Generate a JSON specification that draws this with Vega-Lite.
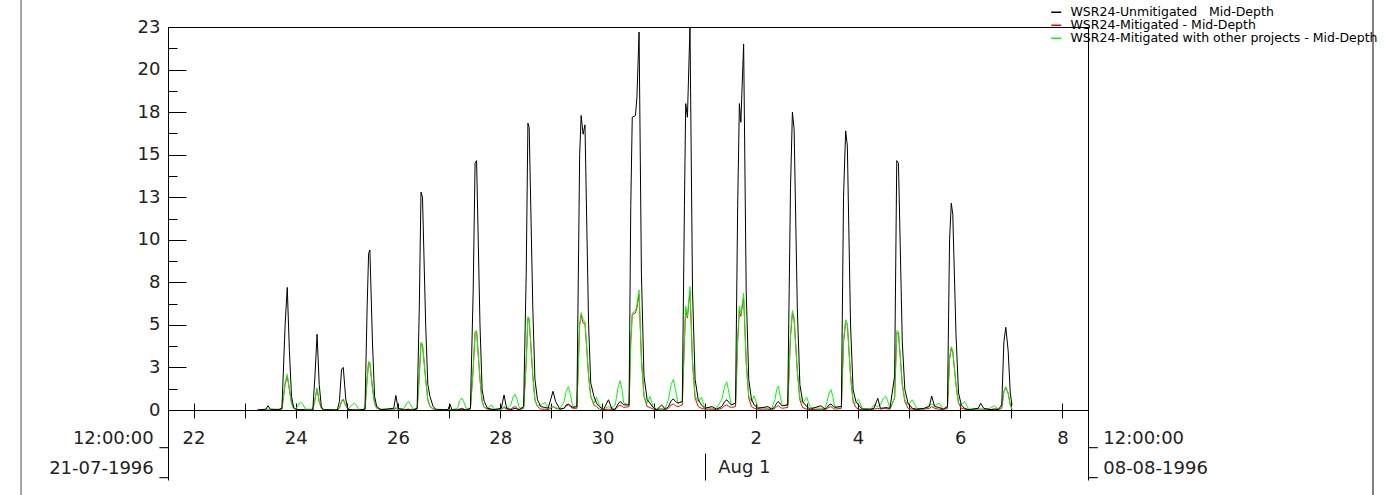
{
  "$schema": "https://vega.github.io/schema/vega-lite/v6.json",
  "width": 920,
  "height": 383,
  "autosize": {"type": "none"},
  "padding": {"left": 168, "top": 27, "right": 301, "bottom": 85},
  "background": "white",
  "config": {
    "view": {"stroke": "#000000", "strokeWidth": 1},
    "axis": {"grid": false, "domainColor": "#000000", "tickColor": "#000000", "labelColor": "#222222", "labelFont": "DejaVu Sans", "labelFontSize": 18, "title": null, "labelOverlap": false, "labelFlush": false, "labelBound": false, "labelLimit": 300},
    "legend": {"orient": "none", "legendX": 882, "legendY": -21, "title": null, "symbolType": "stroke", "symbolSize": 100, "symbolStrokeWidth": 1.5, "labelFont": "DejaVu Sans", "labelFontSize": 12.5, "labelColor": "#000000", "labelOffset": 8, "rowPadding": -1.5, "padding": 0, "labelLimit": 400}
  },
  "data": {"values": [
    {"t":"1996-07-23T06:00","U":0,"M":0,"O":0},
    {"t":"1996-07-23T10:00","U":0.05,"M":0,"O":0.02},
    {"t":"1996-07-23T11:00","U":0.25,"M":0.02,"O":0.05},
    {"t":"1996-07-23T12:00","U":0.05,"M":0,"O":0.03},
    {"t":"1996-07-23T16:00","U":0.02,"M":0,"O":0.05},
    {"t":"1996-07-23T17:30","U":0.1,"M":0.05,"O":0.1},
    {"t":"1996-07-23T19:00","U":5.0,"M":1.5,"O":1.6},
    {"t":"1996-07-23T20:00","U":7.2,"M":2.0,"O":2.1},
    {"t":"1996-07-23T21:00","U":3.5,"M":1.2,"O":1.2},
    {"t":"1996-07-23T22:00","U":0.8,"M":0.4,"O":0.4},
    {"t":"1996-07-23T23:00","U":0.15,"M":0.1,"O":0.1},
    {"t":"1996-07-24T00:00","U":0.05,"M":0.02,"O":0.05},
    {"t":"1996-07-24T01:30","U":0.02,"M":0.02,"O":0.35},
    {"t":"1996-07-24T02:30","U":0.02,"M":0.02,"O":0.45},
    {"t":"1996-07-24T03:30","U":0.02,"M":0.02,"O":0.3},
    {"t":"1996-07-24T04:30","U":0,"M":0,"O":0.05},
    {"t":"1996-07-24T08:00","U":0,"M":0,"O":0.05},
    {"t":"1996-07-24T09:00","U":2.0,"M":0.6,"O":0.6},
    {"t":"1996-07-24T10:00","U":4.45,"M":1.25,"O":1.3},
    {"t":"1996-07-24T11:00","U":1.5,"M":0.5,"O":0.5},
    {"t":"1996-07-24T12:00","U":0.2,"M":0.1,"O":0.1},
    {"t":"1996-07-24T13:00","U":0.02,"M":0,"O":0.02},
    {"t":"1996-07-24T19:30","U":0,"M":0,"O":0.02},
    {"t":"1996-07-24T20:30","U":0.5,"M":0.1,"O":0.15},
    {"t":"1996-07-24T21:30","U":2.4,"M":0.5,"O":0.55},
    {"t":"1996-07-24T22:18","U":2.5,"M":0.6,"O":0.65},
    {"t":"1996-07-24T23:30","U":0.6,"M":0.25,"O":0.25},
    {"t":"1996-07-25T00:30","U":0.05,"M":0.03,"O":0.05},
    {"t":"1996-07-25T02:30","U":0,"M":0.02,"O":0.3},
    {"t":"1996-07-25T03:30","U":0,"M":0.02,"O":0.4},
    {"t":"1996-07-25T04:30","U":0,"M":0.02,"O":0.28},
    {"t":"1996-07-25T05:30","U":0,"M":0,"O":0.03},
    {"t":"1996-07-25T08:30","U":0.05,"M":0.02,"O":0.05},
    {"t":"1996-07-25T09:30","U":6,"M":1.8,"O":1.8},
    {"t":"1996-07-25T10:12","U":9.2,"M":2.8,"O":2.85},
    {"t":"1996-07-25T10:48","U":9.4,"M":2.7,"O":2.8},
    {"t":"1996-07-25T12:00","U":4,"M":1.3,"O":1.3},
    {"t":"1996-07-25T13:00","U":0.8,"M":0.4,"O":0.4},
    {"t":"1996-07-25T14:00","U":0.2,"M":0.1,"O":0.1},
    {"t":"1996-07-25T16:00","U":0.02,"M":0.02,"O":0.05},
    {"t":"1996-07-25T22:00","U":0.1,"M":0.02,"O":0.05},
    {"t":"1996-07-25T23:00","U":0.85,"M":0.1,"O":0.15},
    {"t":"1996-07-26T00:00","U":0.1,"M":0.02,"O":0.05},
    {"t":"1996-07-26T03:00","U":0,"M":0,"O":0.1},
    {"t":"1996-07-26T04:00","U":0.02,"M":0.04,"O":0.4},
    {"t":"1996-07-26T05:00","U":0.02,"M":0.05,"O":0.5},
    {"t":"1996-07-26T06:00","U":0.01,"M":0.03,"O":0.3},
    {"t":"1996-07-26T07:00","U":0,"M":0,"O":0.05},
    {"t":"1996-07-26T09:00","U":0.1,"M":0.05,"O":0.1},
    {"t":"1996-07-26T10:00","U":6,"M":2,"O":2},
    {"t":"1996-07-26T10:48","U":12.8,"M":3.9,"O":3.98},
    {"t":"1996-07-26T11:30","U":12.5,"M":3.8,"O":3.9},
    {"t":"1996-07-26T13:00","U":5,"M":1.8,"O":1.8},
    {"t":"1996-07-26T14:00","U":1.5,"M":0.6,"O":0.6},
    {"t":"1996-07-26T15:00","U":0.8,"M":0.2,"O":0.2},
    {"t":"1996-07-26T16:30","U":0.2,"M":0.05,"O":0.08},
    {"t":"1996-07-26T18:00","U":0.02,"M":0.02,"O":0.05},
    {"t":"1996-07-26T23:30","U":0.02,"M":0,"O":0.02},
    {"t":"1996-07-27T00:24","U":0.35,"M":0.05,"O":0.05},
    {"t":"1996-07-27T01:18","U":0.02,"M":0,"O":0.02},
    {"t":"1996-07-27T04:00","U":0,"M":0.02,"O":0.1},
    {"t":"1996-07-27T05:00","U":0.03,"M":0.07,"O":0.55},
    {"t":"1996-07-27T06:00","U":0.05,"M":0.1,"O":0.7},
    {"t":"1996-07-27T07:00","U":0.03,"M":0.05,"O":0.45},
    {"t":"1996-07-27T08:00","U":0,"M":0,"O":0.1},
    {"t":"1996-07-27T10:00","U":0.1,"M":0.05,"O":0.1},
    {"t":"1996-07-27T11:18","U":7,"M":2.4,"O":2.4},
    {"t":"1996-07-27T12:12","U":14.5,"M":4.5,"O":4.6},
    {"t":"1996-07-27T12:54","U":14.65,"M":4.6,"O":4.66},
    {"t":"1996-07-27T14:30","U":5,"M":1.8,"O":1.8},
    {"t":"1996-07-27T15:30","U":1.2,"M":0.5,"O":0.5},
    {"t":"1996-07-27T16:30","U":0.5,"M":0.15,"O":0.15},
    {"t":"1996-07-27T18:00","U":0.1,"M":0.05,"O":0.1},
    {"t":"1996-07-27T20:00","U":0.05,"M":0.02,"O":0.3},
    {"t":"1996-07-27T21:00","U":0.02,"M":0.02,"O":0.05},
    {"t":"1996-07-28T00:30","U":0.1,"M":0.02,"O":0.05},
    {"t":"1996-07-28T01:48","U":0.88,"M":0.15,"O":0.2},
    {"t":"1996-07-28T03:00","U":0.1,"M":0.05,"O":0.1},
    {"t":"1996-07-28T05:00","U":0.02,"M":0.05,"O":0.3},
    {"t":"1996-07-28T06:00","U":0.06,"M":0.15,"O":0.75},
    {"t":"1996-07-28T07:00","U":0.1,"M":0.2,"O":0.92},
    {"t":"1996-07-28T08:00","U":0.05,"M":0.1,"O":0.6},
    {"t":"1996-07-28T09:00","U":0.02,"M":0.02,"O":0.1},
    {"t":"1996-07-28T11:00","U":0.2,"M":0.1,"O":0.15},
    {"t":"1996-07-28T12:12","U":8,"M":2.8,"O":2.8},
    {"t":"1996-07-28T13:00","U":16.85,"M":5.4,"O":5.48},
    {"t":"1996-07-28T13:36","U":16.6,"M":5.3,"O":5.4},
    {"t":"1996-07-28T15:18","U":6,"M":2,"O":2},
    {"t":"1996-07-28T16:18","U":1.8,"M":0.6,"O":0.6},
    {"t":"1996-07-28T17:30","U":0.6,"M":0.2,"O":0.2},
    {"t":"1996-07-28T19:00","U":0.2,"M":0.05,"O":0.3},
    {"t":"1996-07-28T21:00","U":0.15,"M":0.05,"O":0.45},
    {"t":"1996-07-28T22:30","U":0.1,"M":0.02,"O":0.1},
    {"t":"1996-07-29T00:48","U":1.1,"M":0.2,"O":0.2},
    {"t":"1996-07-29T02:00","U":0.5,"M":0.1,"O":0.15},
    {"t":"1996-07-29T04:00","U":0.05,"M":0.05,"O":0.05},
    {"t":"1996-07-29T06:00","U":0.1,"M":0.1,"O":0.5},
    {"t":"1996-07-29T07:00","U":0.3,"M":0.25,"O":1.1},
    {"t":"1996-07-29T08:00","U":0.35,"M":0.3,"O":1.37},
    {"t":"1996-07-29T09:00","U":0.25,"M":0.2,"O":0.9},
    {"t":"1996-07-29T10:00","U":0.15,"M":0.1,"O":0.2},
    {"t":"1996-07-29T12:00","U":0.2,"M":0.1,"O":0.2},
    {"t":"1996-07-29T13:18","U":15,"M":5,"O":5},
    {"t":"1996-07-29T14:00","U":17.3,"M":5.6,"O":5.72},
    {"t":"1996-07-29T14:54","U":16.2,"M":5.1,"O":5.3},
    {"t":"1996-07-29T15:48","U":16.75,"M":5.1,"O":5.2},
    {"t":"1996-07-29T17:30","U":5,"M":2,"O":2},
    {"t":"1996-07-29T18:30","U":1.6,"M":0.8,"O":0.8},
    {"t":"1996-07-29T20:00","U":0.8,"M":0.3,"O":0.4},
    {"t":"1996-07-29T21:12","U":0.4,"M":0.2,"O":0.75},
    {"t":"1996-07-29T22:30","U":0.2,"M":0.05,"O":0.3},
    {"t":"1996-07-30T00:30","U":0.02,"M":0.02,"O":0.05},
    {"t":"1996-07-30T02:48","U":0.6,"M":0.05,"O":0.2},
    {"t":"1996-07-30T04:30","U":0.05,"M":0.02,"O":0.1},
    {"t":"1996-07-30T06:00","U":0.05,"M":0.05,"O":0.3},
    {"t":"1996-07-30T07:18","U":0.35,"M":0.2,"O":1.3},
    {"t":"1996-07-30T08:18","U":0.5,"M":0.3,"O":1.72},
    {"t":"1996-07-30T09:12","U":0.4,"M":0.22,"O":1.2},
    {"t":"1996-07-30T10:00","U":0.3,"M":0.15,"O":0.4},
    {"t":"1996-07-30T12:30","U":0.3,"M":0.2,"O":0.3},
    {"t":"1996-07-30T13:18","U":12,"M":4,"O":4},
    {"t":"1996-07-30T14:00","U":17.2,"M":5.6,"O":5.7},
    {"t":"1996-07-30T15:30","U":17.3,"M":5.7,"O":5.8},
    {"t":"1996-07-30T16:12","U":18.4,"M":6.0,"O":6.2},
    {"t":"1996-07-30T17:12","U":22.2,"M":6.8,"O":7.05},
    {"t":"1996-07-30T18:18","U":8,"M":3,"O":3},
    {"t":"1996-07-30T19:30","U":2,"M":0.8,"O":0.8},
    {"t":"1996-07-30T21:00","U":0.6,"M":0.2,"O":0.4},
    {"t":"1996-07-30T22:18","U":0.4,"M":0.15,"O":0.8},
    {"t":"1996-07-30T23:48","U":0.15,"M":0.05,"O":0.2},
    {"t":"1996-07-31T01:30","U":0.02,"M":0.02,"O":0.05},
    {"t":"1996-07-31T03:48","U":0.3,"M":0.05,"O":0.1},
    {"t":"1996-07-31T05:30","U":0.05,"M":0.02,"O":0.1},
    {"t":"1996-07-31T07:00","U":0.2,"M":0.1,"O":0.6},
    {"t":"1996-07-31T08:18","U":0.55,"M":0.3,"O":1.5},
    {"t":"1996-07-31T09:18","U":0.65,"M":0.35,"O":1.8},
    {"t":"1996-07-31T10:18","U":0.5,"M":0.25,"O":1.2},
    {"t":"1996-07-31T11:30","U":0.4,"M":0.2,"O":0.4},
    {"t":"1996-07-31T13:30","U":0.5,"M":0.3,"O":0.5},
    {"t":"1996-07-31T14:30","U":12,"M":4,"O":4.2},
    {"t":"1996-07-31T15:06","U":18,"M":5.9,"O":6.1},
    {"t":"1996-07-31T15:54","U":17.2,"M":5.4,"O":5.5},
    {"t":"1996-07-31T17:06","U":22.5,"M":7.0,"O":7.25},
    {"t":"1996-07-31T18:18","U":7,"M":2.8,"O":2.8},
    {"t":"1996-07-31T19:30","U":1.8,"M":0.7,"O":0.8},
    {"t":"1996-07-31T21:00","U":0.6,"M":0.2,"O":0.5},
    {"t":"1996-07-31T22:30","U":0.3,"M":0.1,"O":0.75},
    {"t":"1996-08-01T00:00","U":0.1,"M":0.05,"O":0.15},
    {"t":"1996-08-01T03:30","U":0.2,"M":0.05,"O":0.1},
    {"t":"1996-08-01T05:30","U":0.05,"M":0.02,"O":0.1},
    {"t":"1996-08-01T08:00","U":0.2,"M":0.1,"O":0.6},
    {"t":"1996-08-01T09:24","U":0.5,"M":0.25,"O":1.4},
    {"t":"1996-08-01T10:24","U":0.6,"M":0.3,"O":1.66},
    {"t":"1996-08-01T11:24","U":0.45,"M":0.2,"O":1.0},
    {"t":"1996-08-01T12:30","U":0.3,"M":0.15,"O":0.3},
    {"t":"1996-08-01T14:30","U":0.4,"M":0.2,"O":0.4},
    {"t":"1996-08-01T15:30","U":12,"M":4,"O":4.2},
    {"t":"1996-08-01T16:18","U":18,"M":5.9,"O":6.1},
    {"t":"1996-08-01T17:00","U":16.9,"M":5.5,"O":5.6},
    {"t":"1996-08-01T18:18","U":21.5,"M":6.6,"O":6.86},
    {"t":"1996-08-01T19:30","U":7,"M":2.8,"O":2.8},
    {"t":"1996-08-01T20:42","U":1.8,"M":0.7,"O":0.8},
    {"t":"1996-08-01T22:00","U":0.6,"M":0.2,"O":0.5},
    {"t":"1996-08-01T23:18","U":0.3,"M":0.1,"O":0.82},
    {"t":"1996-08-02T01:00","U":0.1,"M":0.05,"O":0.15},
    {"t":"1996-08-02T05:42","U":0.2,"M":0.05,"O":0.1},
    {"t":"1996-08-02T07:30","U":0.05,"M":0.02,"O":0.1},
    {"t":"1996-08-02T09:00","U":0.2,"M":0.1,"O":0.6},
    {"t":"1996-08-02T09:48","U":0.4,"M":0.2,"O":1.2},
    {"t":"1996-08-02T10:36","U":0.5,"M":0.25,"O":1.4},
    {"t":"1996-08-02T11:30","U":0.35,"M":0.15,"O":0.8},
    {"t":"1996-08-02T12:30","U":0.25,"M":0.1,"O":0.25},
    {"t":"1996-08-02T15:00","U":0.3,"M":0.15,"O":0.3},
    {"t":"1996-08-02T16:18","U":13,"M":4.3,"O":4.4},
    {"t":"1996-08-02T17:12","U":17.5,"M":5.7,"O":5.84},
    {"t":"1996-08-02T18:00","U":16.5,"M":5.3,"O":5.4},
    {"t":"1996-08-02T19:30","U":6,"M":2.3,"O":2.3},
    {"t":"1996-08-02T20:42","U":1.5,"M":0.6,"O":0.7},
    {"t":"1996-08-02T22:00","U":0.5,"M":0.15,"O":0.4},
    {"t":"1996-08-02T23:54","U":0.2,"M":0.05,"O":0.75},
    {"t":"1996-08-03T01:30","U":0.05,"M":0.02,"O":0.15},
    {"t":"1996-08-03T06:36","U":0.25,"M":0.05,"O":0.1},
    {"t":"1996-08-03T08:30","U":0.05,"M":0.02,"O":0.1},
    {"t":"1996-08-03T09:30","U":0.15,"M":0.1,"O":0.5},
    {"t":"1996-08-03T10:24","U":0.3,"M":0.15,"O":1.0},
    {"t":"1996-08-03T11:18","U":0.35,"M":0.2,"O":1.2},
    {"t":"1996-08-03T12:12","U":0.25,"M":0.12,"O":0.8},
    {"t":"1996-08-03T13:00","U":0.15,"M":0.05,"O":0.2},
    {"t":"1996-08-03T16:12","U":0.2,"M":0.1,"O":0.2},
    {"t":"1996-08-03T17:12","U":12.5,"M":4,"O":4.1},
    {"t":"1996-08-03T18:12","U":16.4,"M":5.1,"O":5.3},
    {"t":"1996-08-03T19:00","U":15.5,"M":5,"O":5.1},
    {"t":"1996-08-03T20:30","U":5,"M":2,"O":2},
    {"t":"1996-08-03T21:42","U":1.2,"M":0.5,"O":0.5},
    {"t":"1996-08-03T23:00","U":0.5,"M":0.15,"O":0.4},
    {"t":"1996-08-04T00:12","U":0.3,"M":0.05,"O":0.63},
    {"t":"1996-08-04T02:00","U":0.05,"M":0.02,"O":0.1},
    {"t":"1996-08-04T06:00","U":0.05,"M":0.02,"O":0.05},
    {"t":"1996-08-04T07:30","U":0.1,"M":0.05,"O":0.3},
    {"t":"1996-08-04T09:18","U":0.69,"M":0.1,"O":0.2},
    {"t":"1996-08-04T10:30","U":0.1,"M":0.05,"O":0.3},
    {"t":"1996-08-04T12:00","U":0.12,"M":0.08,"O":0.7},
    {"t":"1996-08-04T13:00","U":0.15,"M":0.1,"O":0.82},
    {"t":"1996-08-04T14:00","U":0.12,"M":0.06,"O":0.5},
    {"t":"1996-08-04T15:00","U":0.1,"M":0.05,"O":0.1},
    {"t":"1996-08-04T17:12","U":2,"M":0.7,"O":0.7},
    {"t":"1996-08-04T18:12","U":14.65,"M":4.5,"O":4.66},
    {"t":"1996-08-04T19:00","U":14.5,"M":4.5,"O":4.6},
    {"t":"1996-08-04T20:48","U":4,"M":1.5,"O":1.5},
    {"t":"1996-08-04T22:00","U":1.2,"M":0.5,"O":0.6},
    {"t":"1996-08-04T23:30","U":0.4,"M":0.1,"O":0.3},
    {"t":"1996-08-05T01:30","U":0.1,"M":0.05,"O":0.6},
    {"t":"1996-08-05T03:30","U":0.05,"M":0.02,"O":0.1},
    {"t":"1996-08-05T07:00","U":0.1,"M":0.05,"O":0.05},
    {"t":"1996-08-05T09:30","U":0.2,"M":0.1,"O":0.3},
    {"t":"1996-08-05T10:36","U":0.82,"M":0.2,"O":0.35},
    {"t":"1996-08-05T12:00","U":0.2,"M":0.1,"O":0.25},
    {"t":"1996-08-05T14:00","U":0.15,"M":0.05,"O":0.4},
    {"t":"1996-08-05T16:00","U":0.05,"M":0.02,"O":0.05},
    {"t":"1996-08-05T18:00","U":0.2,"M":0.1,"O":0.2},
    {"t":"1996-08-05T19:00","U":10,"M":3,"O":3.1},
    {"t":"1996-08-05T19:48","U":12.15,"M":3.6,"O":3.72},
    {"t":"1996-08-05T20:30","U":11.5,"M":3.4,"O":3.5},
    {"t":"1996-08-05T22:00","U":4.5,"M":1.5,"O":1.5},
    {"t":"1996-08-05T23:12","U":1,"M":0.4,"O":0.4},
    {"t":"1996-08-06T00:30","U":0.3,"M":0.1,"O":0.3},
    {"t":"1996-08-06T02:00","U":0.1,"M":0.05,"O":0.5},
    {"t":"1996-08-06T04:00","U":0.02,"M":0.02,"O":0.05},
    {"t":"1996-08-06T08:30","U":0.1,"M":0.05,"O":0.05},
    {"t":"1996-08-06T09:36","U":0.4,"M":0.05,"O":0.05},
    {"t":"1996-08-06T11:00","U":0.1,"M":0.02,"O":0.05},
    {"t":"1996-08-06T14:00","U":0.02,"M":0.02,"O":0.1},
    {"t":"1996-08-06T16:00","U":0.05,"M":0.05,"O":0.25},
    {"t":"1996-08-06T18:00","U":0.05,"M":0.02,"O":0.05},
    {"t":"1996-08-06T19:30","U":0.3,"M":0.1,"O":0.15},
    {"t":"1996-08-06T20:30","U":4,"M":1.1,"O":1.1},
    {"t":"1996-08-06T21:24","U":4.86,"M":1.3,"O":1.37},
    {"t":"1996-08-06T22:30","U":3.5,"M":1,"O":1},
    {"t":"1996-08-06T23:30","U":1,"M":0.3,"O":0.3},
    {"t":"1996-08-07T00:18","U":0.3,"M":0.05,"O":0.05}
  ]},
  "resolve": {"axis": {"x": "independent", "y": "independent"}},
  "layer": [
    {
      "mark": {"type": "line", "strokeWidth": 1, "clip": true},
      "encoding": {
        "x": {"field": "t", "type": "temporal",
          "scale": {"domain": [{"year": 1996, "month": 7, "date": 21, "hours": 12}, {"year": 1996, "month": 8, "date": 8, "hours": 12}]},
          "axis": {"orient": "bottom", "offset": -7, "domain": false, "tickSize": 15, "labelPadding": 11, "labelBaseline": "top", "labelAlign": "center",
            "values": [
              {"year":1996,"month":7,"date":22},{"year":1996,"month":7,"date":23},{"year":1996,"month":7,"date":24},{"year":1996,"month":7,"date":25},
              {"year":1996,"month":7,"date":26},{"year":1996,"month":7,"date":27},{"year":1996,"month":7,"date":28},{"year":1996,"month":7,"date":29},
              {"year":1996,"month":7,"date":30},{"year":1996,"month":7,"date":31},{"year":1996,"month":8,"date":1},{"year":1996,"month":8,"date":2},
              {"year":1996,"month":8,"date":3},{"year":1996,"month":8,"date":4},{"year":1996,"month":8,"date":5},{"year":1996,"month":8,"date":6},
              {"year":1996,"month":8,"date":7},{"year":1996,"month":8,"date":8}
            ],
            "labelExpr": "date(datum.value) % 2 == 0 ? '' + date(datum.value) : ''"}},
        "y": {"field": "M", "type": "quantitative", "scale": {"domain": [0, 22.5], "nice": false},
          "axis": {"orient": "left", "values": [0, 2.5, 5, 7.5, 10, 12.5, 15, 17.5, 20, 22.5], "labelExpr": "'' + round(datum.value)", "tickSize": -18, "labelPadding": 26, "labelAlign": "right", "labelBaseline": "middle", "domain": true}},
        "color": {"datum": "WSR24-Mitigated - Mid-Depth", "type": "nominal",
          "scale": {"domain": ["WSR24-Unmitigated\u00a0\u00a0\u00a0Mid-Depth", "WSR24-Mitigated - Mid-Depth", "WSR24-Mitigated with other projects - Mid-Depth"], "range": ["#000000", "#ff0000", "#00ff00"]}}
      }
    },
    {
      "mark": {"type": "line", "strokeWidth": 1, "clip": true},
      "encoding": {
        "x": {"field": "t", "type": "temporal",
          "scale": {"domain": [{"year": 1996, "month": 7, "date": 21, "hours": 12}, {"year": 1996, "month": 8, "date": 8, "hours": 12}]},
          "axis": {"orient": "bottom", "offset": 43, "domain": false, "tickSize": 27, "labelPadding": -13, "labelBaseline": "middle", "labelAlign": "left", "labelOffset": 13,
            "values": [{"year":1996,"month":8,"date":1}], "labelExpr": "'Aug 1'"}},
        "y": {"field": "O", "type": "quantitative", "scale": {"domain": [0, 22.5], "nice": false},
          "axis": {"orient": "left", "values": [1.25, 3.75, 6.25, 8.75, 11.25, 13.75, 16.25, 18.75, 21.25], "tickSize": -9, "labels": false, "domain": false}},
        "color": {"datum": "WSR24-Mitigated with other projects - Mid-Depth", "type": "nominal"}
      }
    },
    {
      "mark": {"type": "line", "strokeWidth": 1, "clip": true},
      "encoding": {
        "x": {"field": "t", "type": "temporal",
          "scale": {"domain": [{"year": 1996, "month": 7, "date": 21, "hours": 12}, {"year": 1996, "month": 8, "date": 8, "hours": 12}]},
          "axis": {"orient": "bottom", "offset": 0, "domain": true, "tickSize": 70, "labelPadding": -51, "labelBaseline": "top", "labelLineHeight": 30,
            "labelAlign": {"condition": {"test": "datum.value < time(datetime(1996, 6, 30))", "value": "right"}, "value": "left"},
            "values": [{"year": 1996, "month": 7, "date": 21, "hours": 12}, {"year": 1996, "month": 8, "date": 8, "hours": 12}],
            "labelExpr": "datum.value < time(datetime(1996, 6, 30)) ? ['12:00:00 _', '21-07-1996 _'] : ['_ 12:00:00', '_ 08-08-1996']"}},
        "y": {"field": "U", "type": "quantitative", "scale": {"domain": [0, 22.5], "nice": false}, "axis": null},
        "color": {"datum": "WSR24-Unmitigated\u00a0\u00a0\u00a0Mid-Depth", "type": "nominal"}
      }
    },
    {
      "data": {"values": [{"edge": "left"}]},
      "mark": {"type": "rule", "color": "#8a8a8a", "strokeWidth": 1.5},
      "encoding": {
        "x": {"datum": {"year": 1996, "month": 7, "date": 18, "hours": 15}, "type": "temporal", "axis": null},
        "y": {"datum": -5.2, "type": "quantitative", "axis": null},
        "y2": {"datum": 24.2}
      }
    },
    {
      "data": {"values": [{"edge": "right"}]},
      "mark": {"type": "rule", "color": "#000000", "strokeWidth": 1},
      "encoding": {
        "x": {"datum": {"year": 1996, "month": 8, "date": 14, "hours": 1, "minutes": 50}, "type": "temporal", "axis": null},
        "y": {"datum": -5.2, "type": "quantitative", "axis": null},
        "y2": {"datum": 24.2}
      }
    }
  ]
}
